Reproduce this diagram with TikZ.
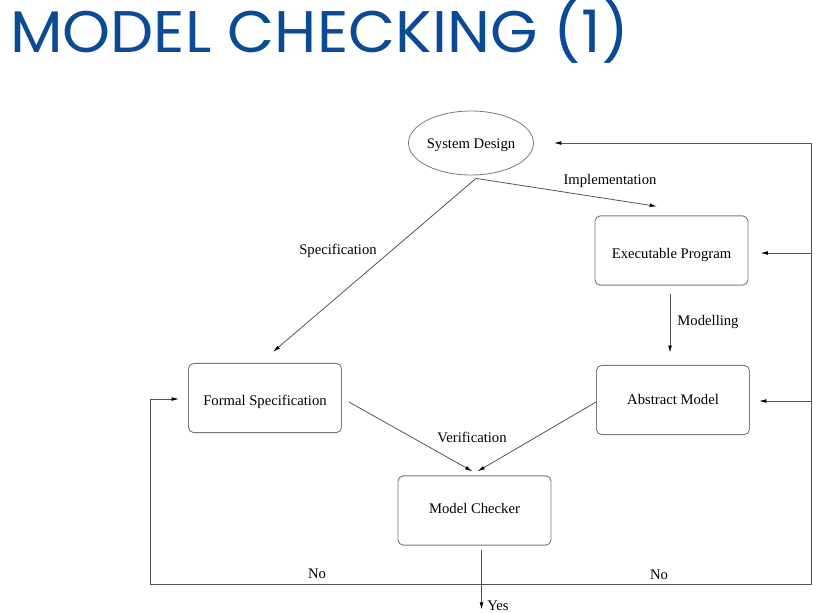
\documentclass[tikz,border=0pt]{standalone}
\usepackage{fontspec}
\setmainfont{Liberation Serif}
\newfontfamily\titlefont{Poppins}
\usetikzlibrary{arrows.meta,shapes.geometric,calc}
\definecolor{titleblue}{HTML}{0B4A94}
\definecolor{boxgray}{HTML}{7A7A7A}
\definecolor{linegray}{HTML}{555555}
\begin{document}
\begin{tikzpicture}[x=0.75pt,y=-0.75pt,
  box/.style={draw=boxgray,line width=0.7pt,rounded corners=4pt,minimum width=114.75pt,minimum height=52pt,inner sep=0pt,text height=7.5pt,text depth=2.5pt,font=\fontsize{11}{13}\selectfont},
  ell/.style={ellipse,draw=boxgray,line width=0.6pt,minimum width=92.25pt,minimum height=48pt,inner sep=0pt,text height=7.5pt,text depth=2.5pt,font=\fontsize{11}{13}\selectfont},
  plain/.style={draw=linegray,line width=0.6pt},
  conn/.style={draw=linegray,line width=0.6pt,-{Latex[length=5.5pt,width=2.8pt,color=black]}},
  lbl/.style={font=\fontsize{11}{13}\selectfont,inner sep=0pt}]
\useasboundingbox (0,0) rectangle (834,612);
\node[anchor=base west,text=titleblue,font=\titlefont\fontsize{44}{50}\selectfont,inner sep=0pt,xscale=1.04] (title) at (10,52) {MODEL CHECKING (1)};

\node[ell] (SD) at (471,143) {\raisebox{-1.5pt}{System Design}};
\node[box] (EP) at (671.5,250.5) {\raisebox{-3.7pt}{Executable Program}};
\node[box] (AM) at (673,400) {\raisebox{-0.8pt}{Abstract Model}};
\node[box] (FS) at (265,398) {\raisebox{-3pt}{Formal Specification}};
\node[box] (MC) at (474.5,510.5) {\raisebox{0pt}{Model Checker}};

\coordinate (o) at ($(SD.south)+(5,3)$);
\draw[conn] (o) -- ($(EP.north)+(-14.5,-9)$);
\draw[conn] (o) -- ($(FS.north)+(8,-11)$);
\draw[conn] ($(EP.south)+(-1.5,8)$) -- ($(AM.north)+(-3,-12)$);
\draw[conn] ($(FS.east)+(7,4)$) -- ($(MC.north)+(-2,-4)$);
\draw[conn] ($(AM.west)+(0,2)$) -- ($(MC.north)+(3,-4)$);
\draw[conn] ($(MC.south)+(7,4)$) -- ($(MC.south)+(7,64)$);

\coordinate (bl) at (150,584);
\coordinate (br) at (811,584);
\coordinate (tr) at (811,143);
\coordinate (re) at (811,253);
\coordinate (ra) at (811,401);
\draw[plain] (bl) -- (br) -- (tr);
\draw[conn] (tr) -- ($(SD.east)+(20,0)$);
\draw[conn] (re) -- ($(EP.east)+(12,2.5)$);
\draw[conn] (ra) -- ($(AM.east)+(9,1)$);
\draw[conn] (bl) |- ($(FS.west)+(-9,1)$);

\node[lbl] (limp) at (610,181) {Implementation};
\node[lbl] (lspec) at (338,251) {Specification};
\node[lbl] (lmod) at (708,322) {Modelling};
\node[lbl] (lver) at (472,437) {Verification};
\node[lbl] (lno1) at (317,574) {No};
\node[lbl] (lno2) at (659,575) {No};
\node[lbl,anchor=west] (lyes) at (487,606) {Yes};
\end{tikzpicture}
\end{document}
